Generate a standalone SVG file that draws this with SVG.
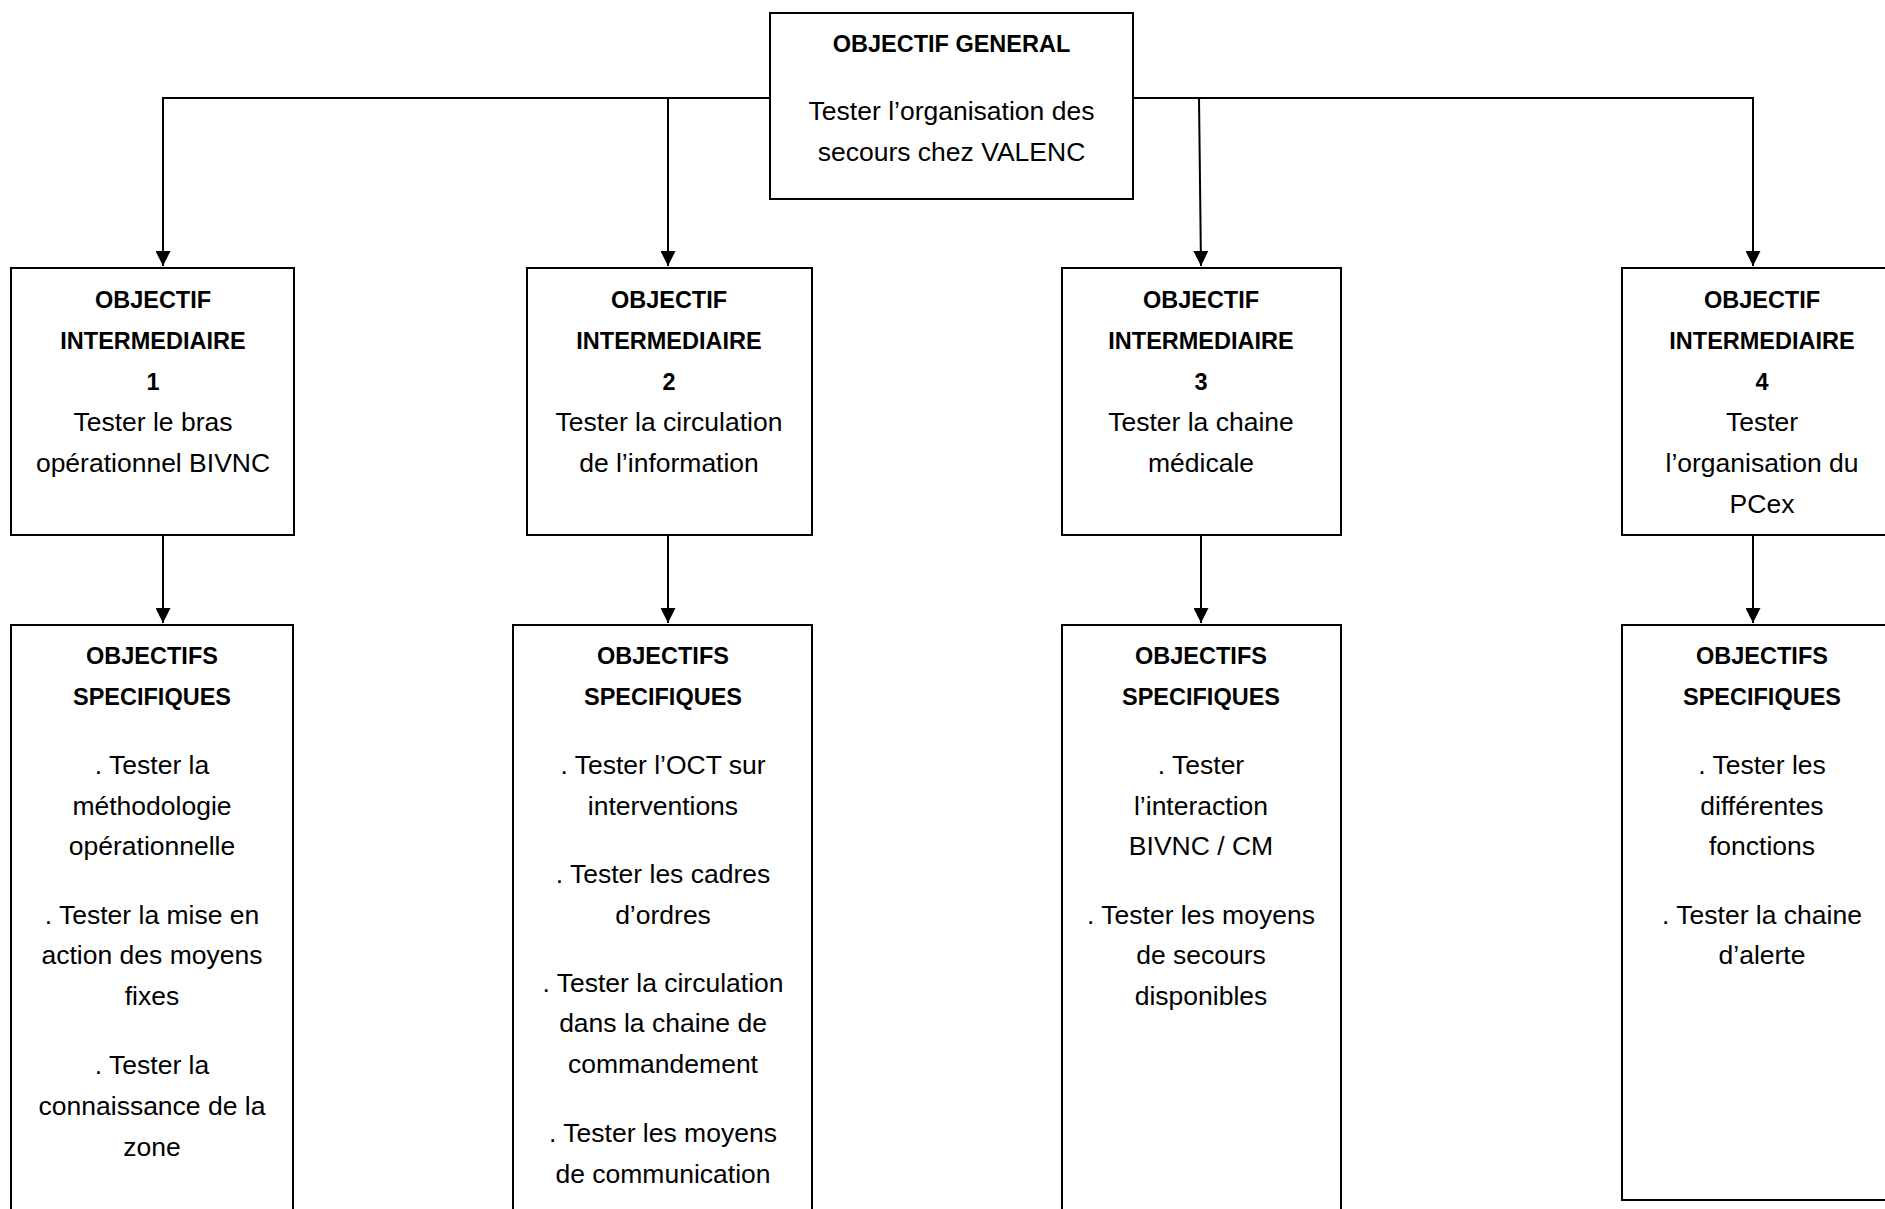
<svg xmlns="http://www.w3.org/2000/svg" width="1885" height="1209" viewBox="0 0 1885 1209">
<style>
.box{fill:#fff;stroke:#000;stroke-width:2}
.b{font-family:"Liberation Sans",Arial,sans-serif;font-weight:bold;font-size:23.5px;text-anchor:middle;fill:#000}
.r{font-family:"Liberation Sans",Arial,sans-serif;font-size:26.5px;text-anchor:middle;fill:#000}
.c{fill:none;stroke:#000;stroke-width:2}
</style>
<defs>
<marker id="arr" markerUnits="userSpaceOnUse" markerWidth="15" markerHeight="15" refX="15" refY="7.5" orient="auto">
<path d="M0,0 L15,7.5 L0,15 z" fill="#000"/>
</marker>
</defs>
<rect width="1885" height="1209" fill="#fff"/>
<g id="connectors">
<path class="c" d="M770,98 H163 V266" marker-end="url(#arr)"/>
<path class="c" d="M668,98 V266" marker-end="url(#arr)"/>
<path class="c" d="M1133,98 H1753 V266" marker-end="url(#arr)"/>
<path class="c" d="M1199,98 L1201,266" marker-end="url(#arr)"/>
<path class="c" d="M163,535 V623" marker-end="url(#arr)"/>
<path class="c" d="M668,535 V623" marker-end="url(#arr)"/>
<path class="c" d="M1201,535 V623" marker-end="url(#arr)"/>
<path class="c" d="M1753,535 V623" marker-end="url(#arr)"/>
</g>
<g id="general">
<rect class="box" x="770" y="13" width="363" height="186"/>
<text class="b" x="951.5" y="52">OBJECTIF GENERAL</text>
<text class="r" x="951.5" y="120">Tester l’organisation des</text>
<text class="r" x="951.5" y="161">secours chez VALENC</text>
</g>
<g id="inter1">
<rect class="box" x="11" y="268" width="283" height="267"/>
<text class="b" x="153" y="308">OBJECTIF</text>
<text class="b" x="153" y="349">INTERMEDIAIRE</text>
<text class="b" x="153" y="390">1</text>
<text class="r" x="153" y="431">Tester le bras</text>
<text class="r" x="153" y="472">opérationnel BIVNC</text>
</g>
<g id="inter2">
<rect class="box" x="527" y="268" width="285" height="267"/>
<text class="b" x="669" y="308">OBJECTIF</text>
<text class="b" x="669" y="349">INTERMEDIAIRE</text>
<text class="b" x="669" y="390">2</text>
<text class="r" x="669" y="431">Tester la circulation</text>
<text class="r" x="669" y="472">de l’information</text>
</g>
<g id="inter3">
<rect class="box" x="1062" y="268" width="279" height="267"/>
<text class="b" x="1201" y="308">OBJECTIF</text>
<text class="b" x="1201" y="349">INTERMEDIAIRE</text>
<text class="b" x="1201" y="390">3</text>
<text class="r" x="1201" y="431">Tester la chaine</text>
<text class="r" x="1201" y="472">médicale</text>
</g>
<g id="inter4">
<rect class="box" x="1622" y="268" width="280" height="267"/>
<text class="b" x="1762" y="308">OBJECTIF</text>
<text class="b" x="1762" y="349">INTERMEDIAIRE</text>
<text class="b" x="1762" y="390">4</text>
<text class="r" x="1762" y="431">Tester</text>
<text class="r" x="1762" y="472">l’organisation du</text>
<text class="r" x="1762" y="513">PCex</text>
</g>
<g id="spec1">
<rect class="box" x="11" y="625" width="282" height="600"/>
<text class="b" x="152" y="664">OBJECTIFS</text>
<text class="b" x="152" y="705">SPECIFIQUES</text>
<text class="r" x="152" y="774">. Tester la</text>
<text class="r" x="152" y="815">méthodologie</text>
<text class="r" x="152" y="855">opérationnelle</text>
<text class="r" x="152" y="924">. Tester la mise en</text>
<text class="r" x="152" y="964">action des moyens</text>
<text class="r" x="152" y="1005">fixes</text>
<text class="r" x="152" y="1074">. Tester la</text>
<text class="r" x="152" y="1115">connaissance de la</text>
<text class="r" x="152" y="1156">zone</text>
</g>
<g id="spec2">
<rect class="box" x="513" y="625" width="299" height="600"/>
<text class="b" x="663" y="664">OBJECTIFS</text>
<text class="b" x="663" y="705">SPECIFIQUES</text>
<text class="r" x="663" y="774">. Tester l’OCT sur</text>
<text class="r" x="663" y="815">interventions</text>
<text class="r" x="663" y="883">. Tester les cadres</text>
<text class="r" x="663" y="924">d’ordres</text>
<text class="r" x="663" y="992">. Tester la circulation</text>
<text class="r" x="663" y="1032">dans la chaine de</text>
<text class="r" x="663" y="1073">commandement</text>
<text class="r" x="663" y="1142">. Tester les moyens</text>
<text class="r" x="663" y="1183">de communication</text>
</g>
<g id="spec3">
<rect class="box" x="1062" y="625" width="279" height="600"/>
<text class="b" x="1201" y="664">OBJECTIFS</text>
<text class="b" x="1201" y="705">SPECIFIQUES</text>
<text class="r" x="1201" y="774">. Tester</text>
<text class="r" x="1201" y="815">l’interaction</text>
<text class="r" x="1201" y="855">BIVNC / CM</text>
<text class="r" x="1201" y="924">. Tester les moyens</text>
<text class="r" x="1201" y="964">de secours</text>
<text class="r" x="1201" y="1005">disponibles</text>
</g>
<g id="spec4">
<rect class="box" x="1622" y="625" width="280" height="575"/>
<text class="b" x="1762" y="664">OBJECTIFS</text>
<text class="b" x="1762" y="705">SPECIFIQUES</text>
<text class="r" x="1762" y="774">. Tester les</text>
<text class="r" x="1762" y="815">différentes</text>
<text class="r" x="1762" y="855">fonctions</text>
<text class="r" x="1762" y="924">. Tester la chaine</text>
<text class="r" x="1762" y="964">d’alerte</text>
</g>
</svg>
